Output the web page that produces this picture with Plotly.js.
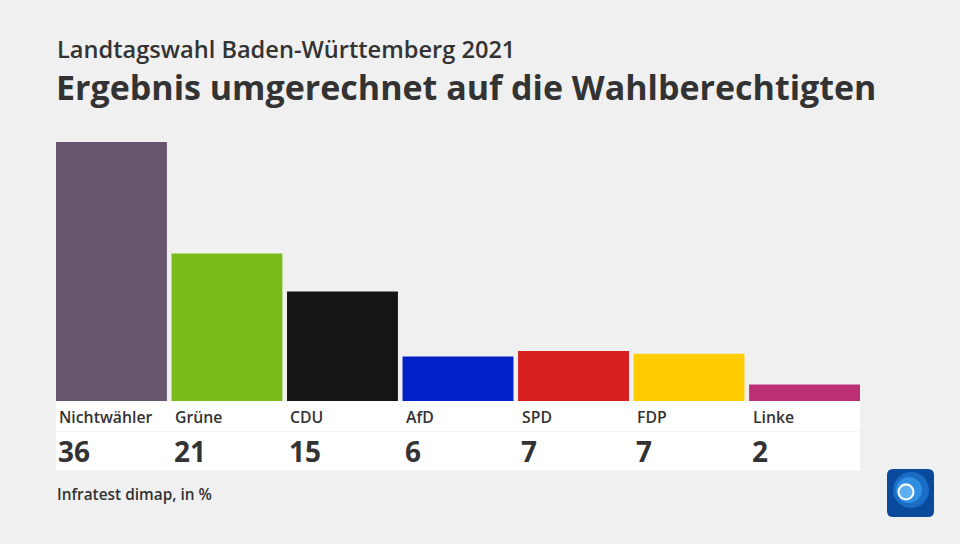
<!DOCTYPE html>
<html>
<head>
<meta charset="utf-8">
<script src="https://cdn.plot.ly/plotly-3.0.1.min.js"></script>
<style>html,body{margin:0;padding:0;background:#f0f0f0;}#chart{width:960px;height:544px;}</style>
</head>
<body>
<div id="chart"></div>
<script>
const categories = ["Nichtwähler", "Grüne", "CDU", "AfD", "SPD", "FDP", "Linke"];
const values = [36.2, 20.6, 15.3, 6.2, 7.0, 6.6, 2.3];
const valueLabels = ["36", "21", "15", "6", "7", "7", "2"];
const barColors = ["#67546f", "#78bc1b", "#151515", "#0021c8", "#d71f1d", "#ffcc00", "#bd3075"];
const subtitle = "Landtagswahl Baden-Württemberg 2021";
const mainTitle = "Ergebnis umgerechnet auf die Wahlberechtigten";
const sourceText = "Infratest dimap, in %";

const FONT = "'Open Sans', 'Noto Sans', sans-serif";
const TXT = "#333333";
const plotBottom = 401;
const plotHeight = 272;
const plotLeft = 56;
const plotWidth = 804;
const BARGAP = 0.04;
const py = p => (plotBottom - p) / plotHeight;
const px = p => (p - plotLeft) / plotWidth;

const annotations = [];
annotations.push({xref: 'paper', yref: 'paper', x: 0, y: 0, xshift: -1, yshift: plotBottom - 49,
  xanchor: 'left', yanchor: 'middle', showarrow: false, text: subtitle,
  font: {family: FONT, size: 23.6, color: TXT, weight: 600}});
annotations.push({xref: 'paper', yref: 'paper', x: 0, y: 0, xshift: -2, yshift: plotBottom - 87,
  xanchor: 'left', yanchor: 'middle', showarrow: false, text: mainTitle,
  font: {family: FONT, size: 34, color: TXT, weight: 700}});
annotations.push({xref: 'paper', yref: 'paper', x: 0, y: 0, xshift: -1, yshift: plotBottom - 494,
  xanchor: 'left', yanchor: 'middle', showarrow: false, text: sourceText,
  font: {family: FONT, size: 15.4, color: TXT, weight: 600}});
categories.forEach((c, i) => {
  annotations.push({xref: 'x', yref: 'paper', x: c, y: 0, xshift: -54, yshift: plotBottom - 417,
    xanchor: 'left', yanchor: 'middle', showarrow: false, text: c,
    font: {family: FONT, size: 15.8, color: TXT, weight: 600}});
  annotations.push({xref: 'x', yref: 'paper', x: c, y: 0, xshift: -55, yshift: plotBottom - 451,
    xanchor: 'left', yanchor: 'middle', showarrow: false, text: valueLabels[i],
    font: {family: FONT, size: 28, color: TXT, weight: 700}});
});

// logo geometry (pixels)
const L = {x0: 887, x1: 934, y0: 469, y1: 517, r: 6};
const logoPath = (() => {
  const X0 = px(L.x0), X1 = px(L.x1), Y0 = py(L.y1), Y1 = py(L.y0);
  const rx = L.r / plotWidth, ry = L.r / plotHeight;
  return `M ${X0 + rx},${Y0} L ${X1 - rx},${Y0} Q ${X1},${Y0} ${X1},${Y0 + ry} L ${X1},${Y1 - ry} Q ${X1},${Y1} ${X1 - rx},${Y1} L ${X0 + rx},${Y1} Q ${X0},${Y1} ${X0},${Y1 - ry} L ${X0},${Y0 + ry} Q ${X0},${Y0} ${X0 + rx},${Y0} Z`;
})();
const circ = (cx, cy, r) => ({x0: px(cx - r), x1: px(cx + r), y0: py(cy + r), y1: py(cy - r)});

const shapes = [
  {type: 'rect', xref: 'paper', yref: 'paper', x0: 0, x1: 1, y0: py(470.5), y1: 0,
   fillcolor: '#ffffff', line: {width: 0}, layer: 'below'},
  {type: 'line', xref: 'paper', yref: 'paper', x0: 0, x1: 1, y0: py(431.5), y1: py(431.5),
   line: {color: '#f4f4f4', width: 1}, layer: 'below'},
  {type: 'path', xref: 'paper', yref: 'paper', path: logoPath, fillcolor: '#0a4a9c', line: {width: 0}},
  Object.assign({type: 'circle', xref: 'paper', yref: 'paper', fillcolor: '#1a6cc4', line: {width: 0}}, circ(911, 490, 18)),
  Object.assign({type: 'circle', xref: 'paper', yref: 'paper', fillcolor: '#2f8ee0', line: {width: 0}}, circ(909, 490, 13)),
  Object.assign({type: 'circle', xref: 'paper', yref: 'paper', fillcolor: '#5fb0f0', line: {width: 0}}, circ(906, 491, 8)),
  Object.assign({type: 'circle', xref: 'paper', yref: 'paper', fillcolor: 'rgba(0,0,0,0)', line: {color: '#ffffff', width: 2}}, circ(906, 492, 7.5))
];

const data = [{
  type: 'bar',
  x: categories,
  y: values,
  marker: {color: barColors, line: {width: 0}},
  hoverinfo: 'none',
  cliponaxis: false
}];

const layout = {
  width: 960, height: 544,
  paper_bgcolor: '#f0f0f0', plot_bgcolor: 'rgba(0,0,0,0)',
  margin: {l: plotLeft, r: 960 - plotLeft - plotWidth, t: plotBottom - plotHeight, b: 544 - plotBottom, pad: 0},
  bargap: BARGAP,
  showlegend: false,
  xaxis: {type: 'category', range: [-0.5 + BARGAP / 2, categories.length - 0.5 - BARGAP / 2], showticklabels: false, showgrid: false, zeroline: false, showline: false, fixedrange: true},
  yaxis: {range: [0, 38.0], showticklabels: false, showgrid: false, zeroline: false, showline: false, fixedrange: true},
  annotations: annotations,
  shapes: shapes
};

Plotly.newPlot('chart', data, layout, {displayModeBar: false, staticPlot: true});
</script>
</body>
</html>
